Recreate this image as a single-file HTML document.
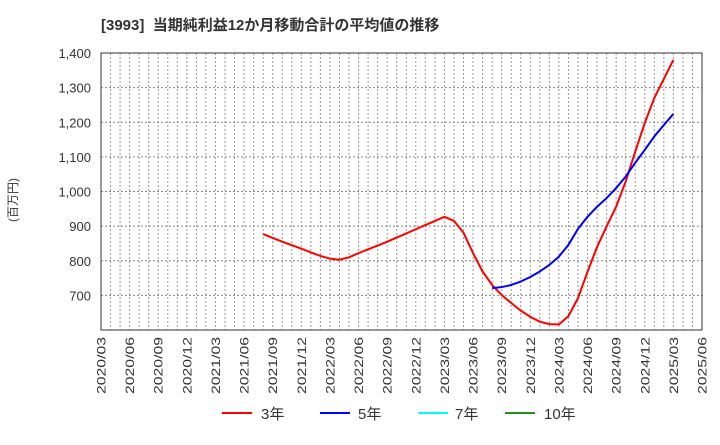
<!DOCTYPE html>
<html><head><meta charset="utf-8"><style>
body{margin:0;background:#fff;}
svg text{font-family:"Liberation Sans","Noto Sans CJK JP",sans-serif;}
</style></head><body>
<svg id="chart" width="720" height="440" xmlns="http://www.w3.org/2000/svg">
<text x="101" y="30" font-size="15" font-weight="bold" fill="#333" xml:space="preserve">[3993]  当期純利益12か月移動合計の平均値の推移</text>
<text transform="translate(17,200) rotate(-90)" text-anchor="middle" font-size="12" fill="#333">(百万円)</text>
<g id="grid"></g>
<g id="axes"></g>
<g id="series"></g>
<g font-size="15" fill="#333">
<line x1="222" y1="413" x2="252" y2="413" stroke="#f00" stroke-width="2"/>
<text x="261" y="419">3年</text>
<line x1="320" y1="413" x2="350" y2="413" stroke="#00f" stroke-width="2"/>
<text x="358" y="419">5年</text>
<line x1="418" y1="413" x2="448" y2="413" stroke="#0ff" stroke-width="2"/>
<text x="455" y="419">7年</text>
<line x1="505" y1="413" x2="535" y2="413" stroke="#228b22" stroke-width="2"/>
<text x="544" y="419">10年</text>
</g>
</svg>
<script>
const yTicks=[700,800,900,1000,1100,1200,1300,1400];
const xTickLabels=["2020/03","2020/06","2020/09","2020/12","2021/03","2021/06","2021/09","2021/12","2022/03","2022/06","2022/09","2022/12","2023/03","2023/06","2023/09","2023/12","2024/03","2024/06","2024/09","2024/12","2025/03","2025/06"];
const red3Start=17;
const red3=[877,866,855,845,835,824,814,806,803,810,822,833,844,855,867,879,891,903,915,927,915,881,822,769,730,701,678,656,638,624,617,616,640,692,768,840,899,956,1029,1115,1198,1270,1325,1380];
const blue5Start=41;
const blue5=[721,724,730,740,753,769,788,812,846,892,927,956,981,1010,1043,1083,1120,1159,1192,1224];
const L=101,R=702,T=53,B=330,yMin=600,yMax=1400,months=63;
const X=m=>L+(R-L)*m/months;
const Y=v=>B-(B-T)*(v-yMin)/(yMax-yMin);
const NS="http://www.w3.org/2000/svg";
function mk(tag,attrs,parent){const e=document.createElementNS(NS,tag);for(const k in attrs)e.setAttribute(k,attrs[k]);parent.appendChild(e);return e;}
const grid=document.getElementById('grid'),axes=document.getElementById('axes'),series=document.getElementById('series');
for(let m=1;m<months;m++){
  const l=mk('line',{x1:X(m),x2:X(m),y1:T,y2:B,stroke:'#999','stroke-dasharray':'2,2','stroke-width':1},grid);
  
  
}
yTicks.forEach(v=>{
  const l=mk('line',{x1:L,x2:R,y1:Y(v),y2:Y(v),stroke:'#888','stroke-dasharray':'2,2','stroke-width':1},grid);
  
  
  const t=mk('text',{x:L-10,y:Y(v)+5,'text-anchor':'end','font-size':13,fill:'#333'},axes);
  
  
  t.textContent=v.toLocaleString('en-US');
});
xTickLabels.forEach((s,i)=>{
  const x=X(i*3);
  const t=mk('text',{transform:`translate(${x+4.5},337) rotate(-90)`,'text-anchor':'end','font-size':12,fill:'#333',textLength:57,lengthAdjust:'spacingAndGlyphs'},axes);
  
  
  t.textContent=s;
});
const frame=mk('rect',{x:L,y:T,width:R-L,height:B-T,fill:'none',stroke:'#333','stroke-width':1},axes);


function line(data,start,color,name){
  const p=mk('polyline',{points:data.map((v,i)=>X(start+i)+','+Y(v)).join(' '),fill:'none',stroke:color,'stroke-width':2,'stroke-linejoin':'round'},series);
  
  
}
line(red3,red3Start,'#f00','line-3y');
line(blue5,blue5Start,'#00f','line-5y');
</script>
</body></html>
